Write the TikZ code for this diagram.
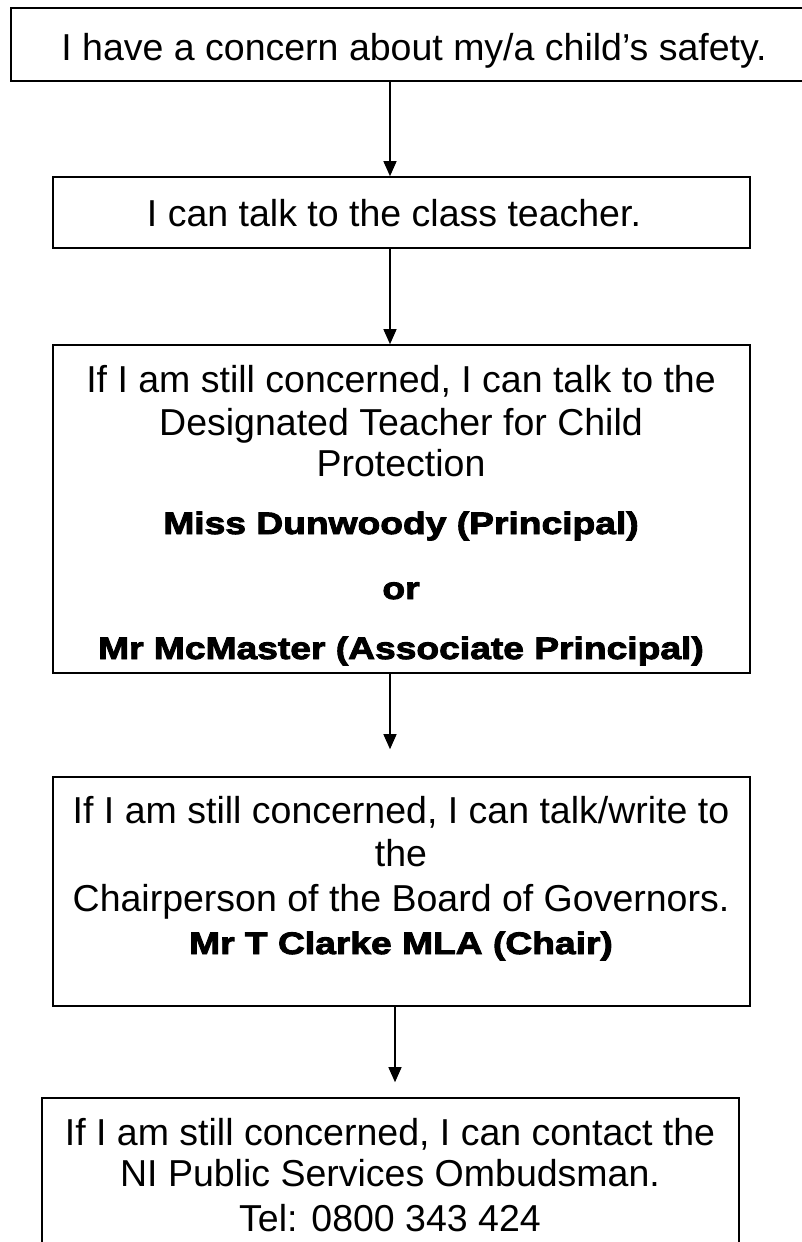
\documentclass[tikz,border=0pt]{standalone}
\usepackage{fontspec}
\setmainfont{Liberation Sans}
\newfontfamily\heavyfont{Liberation Sans}[BoldFeatures={FakeStretch=1.2,FakeBold=3}]
\usetikzlibrary{arrows.meta}

\begin{document}
\begin{tikzpicture}[x=1pt,y=-1pt,
	box/.style={draw,line width=1.6pt,inner sep=0pt,minimum width=697pt},
	txt/.style={inner sep=0pt,text height=27pt,text depth=0pt,font=\fontsize{37.5}{45}\selectfont},
	who/.style={inner sep=0pt,text height=22pt,text depth=0pt,font=\fontsize{31}{37}\heavyfont\bfseries},
	flow/.style={line width=1.3pt,-{Triangle[length=15pt,width=13pt]}}]
			\useasboundingbox (0,0) rectangle (802,1242);
			% boxes
			\node[box,minimum width=806pt,minimum height=73pt] (b1) at (414,44.5) {};
			\node[box,minimum height=71pt] (b2) at (401.5,212.5) {};
			\node[box,minimum height=328pt] (b3) at (401.5,509) {};
			\node[box,minimum height=229pt] (b4) at (401.5,891.5) {};
			\node[box,minimum height=164pt] (b5) at (390.5,1180) {};
			% texts
			\node[txt] (t1) at (414,47) {I have a concern about my/a child’s safety.};
			\node[txt] (t2) at (394,213) {I can talk to the class teacher.};
			\node[txt] (t3a) at (401,379) {If I am still concerned, I can talk to the};
			\node[txt] (t3b) at (401,422) {Designated Teacher for Child};
			\node[txt] (t3c) at (401,463) {Protection};
			\node[who] (t3d) at (401,523) {Miss Dunwoody (Principal)};
			\node[who] (t3e) at (401,588) {or};
			\node[who] (t3f) at (401,648) {Mr McMaster (Associate Principal)};
			\node[txt] (t4a) at (401,810) {If I am still concerned, I can talk/write to};
			\node[txt] (t4b) at (401,853) {the};
			\node[txt] (t4c) at (401,898) {Chairperson of the Board of Governors.};
			\node[who] (t4d) at (401,943) {Mr T Clarke MLA (Chair)};
			\node[txt] (t5a) at (390,1132) {If I am still concerned, I can contact the};
			\node[txt] (t5b) at (390,1173) {NI Public Services Ombudsman.};
			\node[txt] (t5c) at (390,1218) {Tel: 0800 343 424};
			% arrows
			\coordinate (ax) at (390,0);
			\coordinate (ax2) at (395,0);
			\draw[flow] (b1.south -| ax) -- (b2.north -| ax);
			\draw[flow] (b2.south -| ax) -- (b3.north -| ax);
			\draw[flow,shorten >=27pt] (b3.south -| ax) -- (b4.north -| ax);
			\draw[flow,shorten >=15pt] (b4.south -| ax2) -- (b5.north -| ax2);
		\end{tikzpicture}
\end{document}
